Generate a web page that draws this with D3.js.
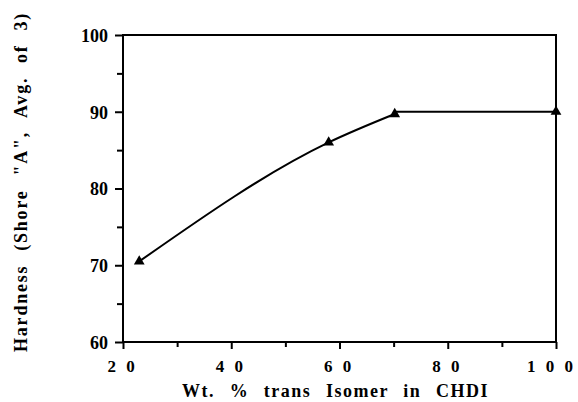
<!DOCTYPE html>
<html>
<head>
  <meta charset="UTF-8">
  <title>Hardness vs trans isomer</title>
  <script src="https://d3js.org/d3.v7.min.js"></script>
  <style>
    body { margin: 0; background: #fff; }
    text { font-family: "Liberation Serif", "DejaVu Serif", serif; font-weight: bold; fill: #000; }
  </style>
</head>
<body>
  <svg></svg>
</body>
<script>
  let width = 578,
    height = 402;

  // data
  let transPct = [23, 58, 70.2, 100];
  let hardness = [70.5, 86, 89.7, 90];
  let xTicks = [20, 40, 60, 80, 100];
  let yTicks = [60, 70, 80, 90, 100];

  let margin = { left: 123, right: 22, top: 35, bottom: 60 };

  let svg = d3.select("svg")
    .attr("width", width)
    .attr("height", height);

  let x = d3.scaleLinear().domain([20, 100]).range([margin.left, width - margin.right]);
  let y = d3.scaleLinear().domain([60, 100]).range([height - margin.bottom, margin.top]);

  let points = transPct.map((v, i) => ({ x: v, y: hardness[i] }));

  // frame
  svg.append("rect")
    .attr("x", x(20))
    .attr("y", y(100))
    .attr("width", x(100) - x(20))
    .attr("height", y(60) - y(100))
    .attr("fill", "none")
    .attr("stroke", "black")
    .attr("stroke-width", 2);

  // minor ticks
  let xMinor = svg.append("g")
    .attr("transform", "translate(0," + y(60) + ")")
    .call(d3.axisBottom(x).tickValues(d3.range(30, 100, 20)).tickSize(5).tickFormat(""));
  let yMinor = svg.append("g")
    .attr("transform", "translate(" + x(20) + ",0)")
    .call(d3.axisLeft(y).tickValues(d3.range(65, 100, 10)).tickSize(6).tickFormat(""));

  // major ticks
  let xAxis = svg.append("g")
    .attr("transform", "translate(0," + y(60) + ")")
    .call(d3.axisBottom(x).tickValues(xTicks).tickSize(7).tickPadding(10)
      .tickFormat(d => String(d).split("").join(" ")));
  let yAxis = svg.append("g")
    .attr("transform", "translate(" + x(20) + ",0)")
    .call(d3.axisLeft(y).tickValues(yTicks).tickSize(8).tickPadding(7));

  [xMinor, yMinor, xAxis, yAxis].forEach(g => {
    g.select(".domain").remove();
    g.selectAll("line").attr("stroke", "black").attr("stroke-width", 2);
  });
  xAxis.selectAll("text").attr("font-size", 17).attr("dy", "0.75em")
    .style("letter-spacing", "3px").attr("dx", d => d == 100 ? "-5px" : "-1px");
  yAxis.selectAll("text").attr("font-size", 18).attr("dy", "0.35em");

  // curve through the rising points, then straight to the plateau
  svg.append("path")
    .datum(points.slice(0, 3))
    .attr("fill", "none")
    .attr("stroke", "black")
    .attr("stroke-width", 2)
    .attr("d", d3.line().x(d => x(d.x)).y(d => y(d.y)).curve(d3.curveMonotoneX));
  svg.append("path")
    .datum([{ x: points[2].x, y: points[3].y }, points[3]])
    .attr("fill", "none")
    .attr("stroke", "black")
    .attr("stroke-width", 2)
    .attr("d", d3.line().x(d => x(d.x)).y(d => y(d.y)));

  // triangle markers
  svg.append("g")
    .selectAll("path")
    .data(points)
    .enter()
    .append("path")
    .attr("transform", d => "translate(" + x(d.x) + "," + y(d.y) + ")")
    .attr("d", d3.symbol().type(d3.symbolTriangle).size(50))
    .attr("fill", "black");

  // spread words so a title fills the same length as in the picture
  function fitWords(t, target) {
    let gaps = t.text().split(" ").length - 1;
    let len = t.node().getComputedTextLength();
    t.style("word-spacing", ((target - len) / gaps) + "px");
  }

  // axis titles
  let xTitle = svg.append("text")
    .attr("x", 182)
    .attr("y", 397)
    .attr("font-size", 18)
    .style("letter-spacing", "1.5px")
    .text("Wt. % trans Isomer in CHDI");
  fitWords(xTitle, 307);

  let yTitle = svg.append("text")
    .attr("transform", "translate(27,352) rotate(-90)")
    .attr("font-size", 18)
    .style("letter-spacing", "1.8px")
    .text("Hardness (Shore \"A\", Avg. of 3)");
  fitWords(yTitle, 340);
</script>
</html>
